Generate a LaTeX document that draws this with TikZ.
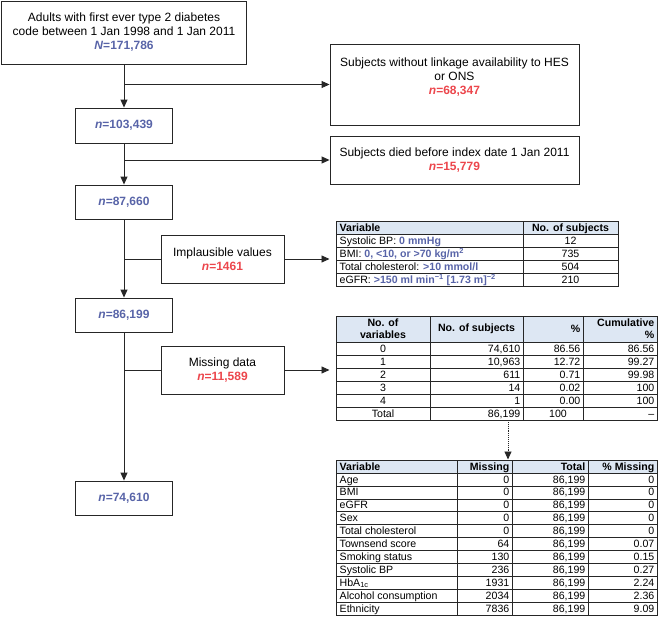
\documentclass[tikz,border=0pt]{standalone}
\usepackage{fontspec}
\setmainfont{Liberation Sans}
\usetikzlibrary{arrows.meta,positioning,calc}
\definecolor{nblue}{RGB}{88,100,168}
\definecolor{nred}{RGB}{236,70,76}
\definecolor{hdrfill}{RGB}{221,231,243}
\newcommand{\nb}[1]{\textcolor{nblue}{\textbf{#1}}}
\newcommand{\nr}[1]{\textcolor{nred}{\textbf{#1}}}
\tikzset{
  flowbox/.style={draw=black!85, line width=0.9pt, align=center, inner sep=0pt,
    font=\fontsize{12}{14}\selectfont},
  flowtext/.style={align=center, inner sep=0pt, font=\fontsize{12}{14}\selectfont},
  arr/.style={line width=0.9pt, draw=black!85, -{Triangle[length=8pt,width=7pt]}},
  tabframe/.style={draw=black!85, line width=1pt, inner sep=0pt},
  grid/.style={draw=black!85, line width=0.5pt},
  cell/.style={inner sep=1.5pt, text height=7.6pt, text depth=0.4pt,
    font=\fontsize{10.6}{12}\selectfont},
  hcell/.style={inner sep=1.5pt, align=center, font=\fontsize{10.6}{12}\selectfont\bfseries},
}
\begin{document}
\begin{tikzpicture}[x=1pt,y=-1pt]
  \useasboundingbox (0,0) rectangle (662,619);
  % main column
  \node[flowbox, minimum width=245pt, minimum height=63pt] (start) at (124,32.5)
    {Adults with first ever type 2 diabetes\\code between 1 Jan 1998 and 1 Jan 2011\\\nb{\textit{N}=171,786}};
  \node[flowbox, minimum width=97pt, minimum height=35pt] (n1) at (124,125.5) {\nb{\textit{n}=103,439}};
  \node[flowbox, minimum width=97pt, minimum height=34pt] (n2) at (124,202) {\nb{\textit{n}=87,660}};
  \node[flowbox, minimum width=97pt, minimum height=34pt] (n3) at (124,315) {\nb{\textit{n}=86,199}};
  \node[flowbox, minimum width=97pt, minimum height=34pt] (n4) at (124,498) {\nb{\textit{n}=74,610}};
  % exclusions
  \node[flowbox, minimum width=249pt, minimum height=81pt] (nolink) at (454.5,84.5) {};
  \node[flowtext, anchor=north] (nolinktxt) at ([yshift=-14pt]nolink.north)
    {Subjects without linkage availability to HES\\or ONS\\\nr{\textit{n}=68,347}};
  \node[flowbox, minimum width=249pt, minimum height=48pt] (died) at (454.5,160)
    {Subjects died before index date 1 Jan 2011\\\nr{\textit{n}=15,779}};
  \node[flowbox, minimum width=123pt, minimum height=48pt] (implaus) at (222.5,259)
    {Implausible values\\\nr{\textit{n}=1461}};
  \node[flowbox, minimum width=123pt, minimum height=48pt] (missing) at (222.5,370)
    {Missing data\\\nr{\textit{n}=11,589}};

  % table of implausible values
  \fill[hdrfill] (336,221) rectangle (618,234);
  \node[tabframe, minimum width=282pt, minimum height=65pt] (tabA) at (477,253.5) {};
  \draw[grid] (336,234) -- (618,234);
  \foreach \y in {247,260,273} \draw[grid] (336,\y) -- (618,\y);
  \draw[grid] (523,221) -- (523,286);
  \node[cell, anchor=west] (a0) at (338,227.5) {\textbf{Variable}};
  \node[cell] (a0n) at (570.5,227.5) {\textbf{No. of subjects}};
  \node[cell, anchor=west] (a1) at (338,240.5) {Systolic BP: \nb{0 mmHg}};
  \node[cell, anchor=west] (a2) at (338,253.5) {BMI: \nb{0, <10, or >70 kg/m\textsuperscript{2}}};
  \node[cell, anchor=west] (a3) at (338,266.5) {Total cholesterol: \nb{>10 mmol/l}};
  \node[cell, anchor=west] (a4) at (338,279.5) {eGFR: \nb{>150 ml min\textsuperscript{−1} [1.73 m]\textsuperscript{−2}}};
  \foreach \v [count=\i] in {12,735,504,210}
    \node[cell] (a\i n) at (570.5,{227.5+13*\i}) {\v};

  % table of missing variables per subject
  \fill[hdrfill] (336,316) rectangle (657,342);
  \node[tabframe, minimum width=321pt, minimum height=104pt] (tabB) at (496.5,368) {};
  \draw[grid] (336,342) -- (657,342);
  \foreach \i in {1,...,5} \draw[grid] (336,{342+13*\i}) -- (657,{342+13*\i});
  \foreach \x in {430,523,583} \draw[grid] (\x,316) -- (\x,420);
  \node[hcell] (b0a) at (383,329) {No. of\\variables};
  \node[hcell] (b0b) at (476.5,329) {No. of subjects};
  \node[hcell, anchor=east] (b0c) at (582,329) {\%};
  \node[hcell, anchor=east, align=right] (b0d) at (656,329) {Cumulative\\\%};
  \foreach \k/\s/\p/\c [count=\i] in {0/{74,610}/86.56/86.56, 1/{10,963}/12.72/99.27,
      2/611/0.71/99.98, 3/14/0.02/100, 4/1/0.00/100} {
    \node[cell] (b\i a) at (383,{335.5+13*\i}) {\k};
    \node[cell, anchor=east] (b\i b) at (522,{335.5+13*\i}) {\s};
    \node[cell, anchor=east] (b\i c) at (582,{335.5+13*\i}) {\p};
    \node[cell, anchor=east] (b\i d) at (656,{335.5+13*\i}) {\c};
  }
  \node[cell] (b6a) at (383,413.5) {Total};
  \node[cell, anchor=east] (b6b) at (522,413.5) {86,199};
  \node[cell] (b6c) at (558,413.5) {100};
  \node[cell, anchor=east] (b6d) at (656,413.5) {–};

  % table of missing values per variable
  \fill[hdrfill] (336,460) rectangle (657,473);
  \node[tabframe, minimum width=321pt, minimum height=155pt] (tabC) at (496.5,537.5) {};
  \foreach \i in {0,...,10} \draw[grid] (336,{473+12.91*\i}) -- (657,{473+12.91*\i});
  \foreach \x in {457,512,588} \draw[grid] (\x,460) -- (\x,615);
  \node[cell, anchor=west] (c0a) at (338,466.5) {\textbf{Variable}};
  \node[cell, anchor=east] (c0b) at (511,466.5) {\textbf{Missing}};
  \node[cell, anchor=east] (c0c) at (587,466.5) {\textbf{Total}};
  \node[cell, anchor=east] (c0d) at (656,466.5) {\textbf{\% Missing}};
  \foreach \v/\m/\p [count=\i] in {Age/0/0, BMI/0/0, eGFR/0/0, Sex/0/0,
      Total cholesterol/0/0, Townsend score/64/0.07, Smoking status/130/0.15,
      Systolic BP/236/0.27, HbA\textsubscript{1c}/1931/2.24,
      Alcohol consumption/2034/2.36, Ethnicity/7836/9.09} {
    \node[cell, anchor=west] (c\i a) at (338,{473+12.91*(\i-0.5)}) {\v};
    \node[cell, anchor=east] (c\i b) at (511,{473+12.91*(\i-0.5)}) {\m};
    \node[cell, anchor=east] (c\i c) at (587,{473+12.91*(\i-0.5)}) {86,199};
    \node[cell, anchor=east] (c\i d) at (656,{473+12.91*(\i-0.5)}) {\p};
  }

  % connectors
  \draw[arr] (start.south) -- (n1.north);
  \draw[arr] (n1.south) -- (n2.north);
  \draw[arr] (n2.south) -- (n3.north);
  \draw[arr] (n3.south) -- (n4.north);
  \draw[arr] (start.south |- nolink.west) -- (nolink.west);
  \draw[arr] (n1.south |- died.west) -- (died.west);
  \draw[line width=0.9pt, draw=black!85] (n2.south |- implaus.west) -- (implaus.west);
  \draw[line width=0.9pt, draw=black!85] (n3.south |- missing.west) -- (missing.west);
  \draw[arr] (implaus.east) -- ([xshift=-6pt]implaus.east -| tabA.west);
  \draw[arr] (missing.east) -- ([xshift=-6pt]missing.east -| tabB.west);
  \coordinate (dfrom) at (508,420);
  \draw[arr, densely dotted] (dfrom) -- (dfrom |- tabC.north);
\end{tikzpicture}
\end{document}
